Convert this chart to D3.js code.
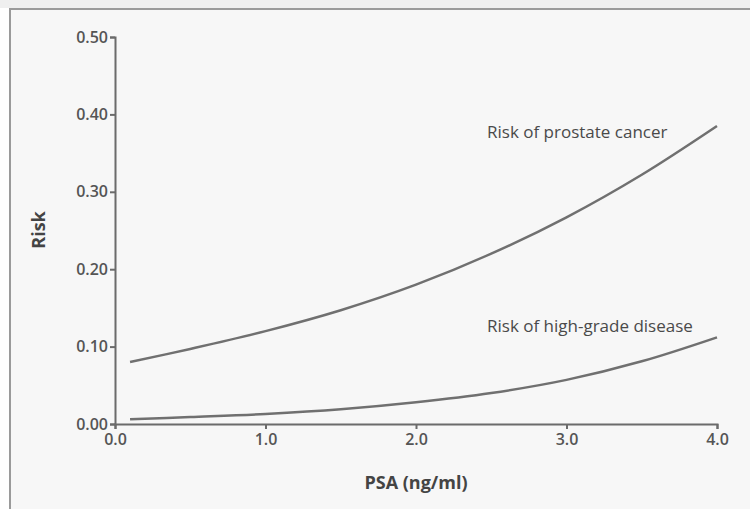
<!DOCTYPE html>
<meta charset="utf-8">
<style>
body { margin: 0; background: #fff; }
.axis text { font-family: "Open Sans", sans-serif; font-size: 16px; font-weight: 600; fill: #555; }
.axis path, .axis line { stroke: #6b6b6b; stroke-width: 2px; }
.curve { fill: none; stroke: #707070; stroke-width: 2.5px; }
.lbl { font-family: "Open Sans", sans-serif; font-size: 17px; fill: #4a4a4a; }
.title { font-family: "Open Sans", sans-serif; font-size: 18px; font-weight: 700; fill: #444; }
</style>
<body>
<svg id="chart" width="750" height="509"></svg>
<script src="https://d3js.org/d3.v7.min.js"></script>
<script>

// PSA values (ng/ml) where the curves were read
var psa = [0.1, 0.5, 1.0, 1.5, 2.0, 2.5, 3.0, 3.5, 4.0];
// risk of prostate cancer
var riskCancer = [0.080, 0.097, 0.120, 0.147, 0.180, 0.220, 0.267, 0.322, 0.385];
// risk of high-grade disease
var riskHighGrade = [0.006, 0.009, 0.013, 0.019, 0.028, 0.040, 0.057, 0.081, 0.112];

var xTicks = [0, 1, 2, 3, 4];
var yTicks = [0, 0.1, 0.2, 0.3, 0.4, 0.5];

var svg = d3.select("#chart");

// panel frame
svg.append("rect").attr("x", 0).attr("y", 0).attr("width", 750).attr("height", 8).attr("fill", "#efefef");
svg.append("rect")
    .attr("x", 10).attr("y", 9)
    .attr("width", 800).attr("height", 600)
    .attr("fill", "#f7f7f7")
    .attr("stroke", "#9a9a9a")
    .attr("stroke-width", 2);

var x = d3.scaleLinear().domain([0, 4]).range([115, 717]);
var y = d3.scaleLinear().domain([0, 0.5]).range([424, 37]);

svg.append("g")
    .attr("class", "axis")
    .attr("transform", "translate(0,424)")
    .call(d3.axisBottom(x).tickValues(xTicks).tickSize(5).tickPadding(5).tickFormat(d3.format(".1f")));

svg.append("g")
    .attr("class", "axis")
    .attr("transform", "translate(115,0)")
    .call(d3.axisLeft(y).tickValues(yTicks).tickSize(5).tickPadding(2).tickFormat(d3.format(".2f")));

var line = d3.line()
    .x(function(d, i) { return x(psa[i]); })
    .y(function(d) { return y(d); })
    .curve(d3.curveCatmullRom);

svg.append("path").datum(riskCancer).attr("class", "curve").attr("d", line);
svg.append("path").datum(riskHighGrade).attr("class", "curve").attr("d", line);

svg.append("text").attr("class", "lbl").attr("x", 487).attr("y", 138).text("Risk of prostate cancer");
svg.append("text").attr("class", "lbl").attr("x", 487).attr("y", 332).text("Risk of high-grade disease");

svg.append("text").attr("class", "title")
    .attr("x", 416).attr("y", 489)
    .attr("text-anchor", "middle")
    .text("PSA (ng/ml)");

svg.append("text").attr("class", "title")
    .attr("transform", "translate(45,230) rotate(-90)")
    .attr("text-anchor", "middle")
    .text("Risk");

</script>
</body>
